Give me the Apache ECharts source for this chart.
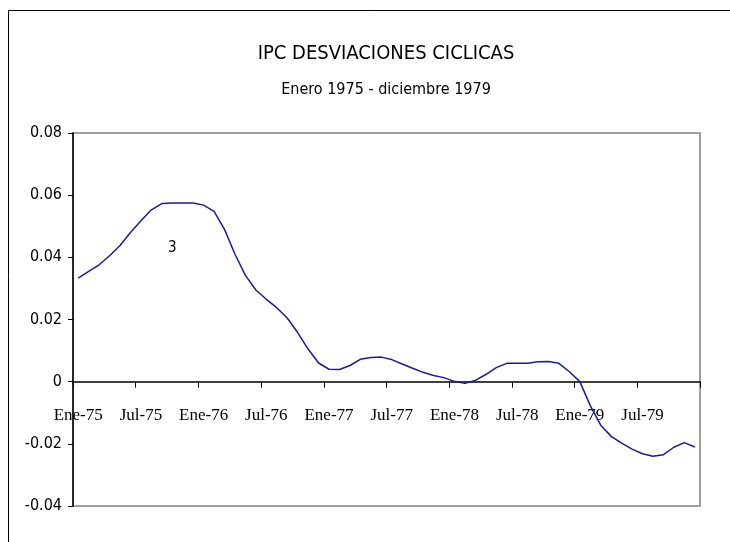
<!DOCTYPE html>
<html>
<head>
<meta charset="utf-8">
<script src="https://cdn.jsdelivr.net/npm/echarts@6/dist/echarts.min.js"></script>
<style>
  html, body { margin: 0; padding: 0; background: #fff; }
  #chart { width: 730px; height: 542px; }
</style>
</head>
<body>
<div id="chart"></div>
<script>
// meses y años del eje
const months = ['Ene', 'Feb', 'Mar', 'Abr', 'May', 'Jun', 'Jul', 'Ago', 'Sep', 'Oct', 'Nov', 'Dic'];
const years = ['75', '76', '77', '78', '79'];

// desviaciones ciclicas del IPC, enero 1975 - diciembre 1979
const ipcCycle = [
    0.0333, 0.0355, 0.0376, 0.0405, 0.0438, 0.0480, 0.0518, 0.0553, 0.0573, 0.0575, 0.0575, 0.0575,
    0.0568, 0.0548, 0.0490, 0.0410, 0.0342, 0.0295, 0.0265, 0.0238, 0.0205, 0.0158, 0.0105, 0.0060,
    0.0040, 0.0039, 0.0052, 0.0072, 0.0078, 0.0079, 0.0071, 0.0057, 0.0043, 0.0030, 0.0020, 0.0013,
    0.0001, -0.0005, 0.0004, 0.0023, 0.0045, 0.0059, 0.0059, 0.0059, 0.0064, 0.0065, 0.0059, 0.0032,
    0.0000, -0.0077, -0.0140, -0.0176, -0.0198, -0.0217, -0.0232, -0.0240, -0.0235, -0.0211, -0.0196, -0.0210
];

const yMin = -0.04;
const yMax = 0.08;
const yStep = 0.02;

let categories = [];
for (const y of years) {
    for (const m of months) {
        categories.push(m + '-' + y);
    }
}

const narrow = "'Liberation Sans Narrow', 'DejaVu Sans Condensed', 'Liberation Sans', sans-serif";

// posicion del area de trazado (px)
const gridTop = 133;
const gridBottom = 36;
const gridHeight = 542 - gridTop - gridBottom;
// el eje x se dibuja en y = 0, no en el borde inferior
const zeroOffset = gridHeight * (0 - yMin) / (yMax - yMin);

const chart = echarts.init(document.getElementById('chart'), null, { renderer: 'canvas' });

const option = {
    backgroundColor: '#ffffff',
    animation: false,
    title: [{
        text: 'IPC DESVIACIONES CICLICAS',
        left: 381,
        top: 39,
        textAlign: 'center',
        textStyle: { fontFamily: narrow, fontSize: 20, fontWeight: 'normal', color: '#000' }
    }, {
        text: 'Enero 1975 - diciembre 1979',
        left: 381,
        top: 77,
        textAlign: 'center',
        textStyle: { fontFamily: narrow, fontSize: 16, fontWeight: 'normal', color: '#000' }
    }],
    grid: {
        left: 73,
        right: 30,
        top: gridTop,
        bottom: gridBottom,
        containLabel: false,
        outerBoundsMode: 'none',
        show: true,
        borderColor: '#a0a0a0',
        borderWidth: 2
    },
    xAxis: {
        type: 'category',
        data: categories,
        boundaryGap: true,
        offset: -zeroOffset,
        axisLine: { onZero: false, lineStyle: { color: '#000', width: 1.5 } },
        axisTick: { show: true, interval: 5, length: 6, inside: false, lineStyle: { color: '#000' } },
        axisLabel: {
            interval: 5,
            margin: 25,
            color: '#000',
            fontFamily: "'Liberation Serif', serif",
            fontSize: 17
        },
        splitLine: { show: false }
    },
    yAxis: {
        type: 'value',
        min: yMin,
        max: yMax,
        interval: yStep,
        axisLine: { show: true, lineStyle: { color: '#000', width: 1.5 } },
        axisTick: { show: true, length: 5, lineStyle: { color: '#000' } },
        axisLabel: {
            margin: 11,
            color: '#000',
            fontFamily: narrow,
            fontSize: 16,
            formatter: function (v) {
                return Math.abs(v) < 1e-9 ? '0' : v.toFixed(2);
            }
        },
        splitLine: { show: false }
    },
    graphic: [{
        // marco exterior del grafico
        type: 'rect',
        shape: { x: 8.5, y: 10.5, width: 900, height: 900 },
        style: { fill: 'none', stroke: '#000', lineWidth: 1 },
        silent: true
    }, {
        type: 'text',
        left: 168,
        top: 241,
        style: { text: '3', font: '15px ' + narrow, fill: '#000' }
    }],
    series: [{
        type: 'line',
        data: ipcCycle,
        showSymbol: false,
        smooth: false,
        lineStyle: { color: '#1c1c96', width: 1.5 }
    }]
};

chart.setOption(option);
</script>
</body>
</html>
